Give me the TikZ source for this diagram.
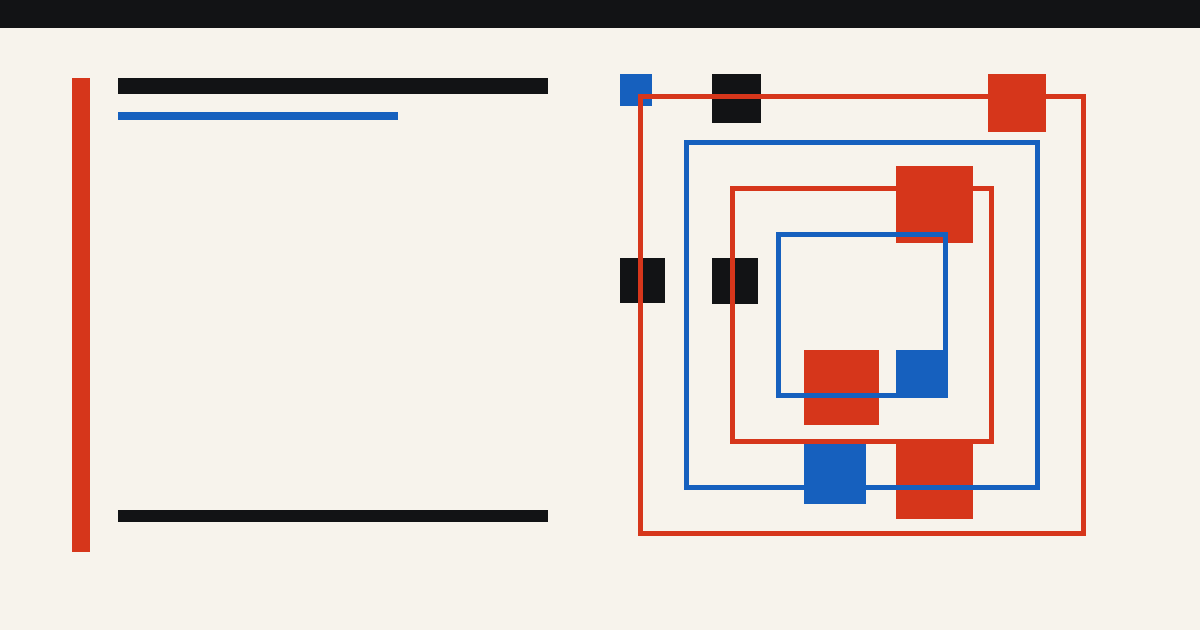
\documentclass[tikz,border=0pt]{standalone}
\definecolor{bgc}{RGB}{247,243,236}
\definecolor{ink}{RGB}{18,19,21}
\definecolor{redc}{RGB}{214,54,27}
\definecolor{bluec}{RGB}{22,96,190}
\tikzset{
  redfill/.style={fill=redc,draw=none},
  bluefill/.style={fill=bluec,draw=none},
  inkfill/.style={fill=ink,draw=none},
  redframe/.style={draw=redc,line width=5pt,fill=none},
  blueframe/.style={draw=bluec,line width=5pt,fill=none}
}
\begin{document}
\begin{tikzpicture}[x=1pt,y=-1pt]
\useasboundingbox (0,0) rectangle (1200,630);
\fill[bgc] (0,0) rectangle (1200,630);
% top band
\fill[inkfill] (0,0) rectangle (1200,28);
% left column
\fill[redfill] (72,78) rectangle (90,552);
\fill[inkfill] (118,78) rectangle (548,94);
\fill[bluefill] (118,112) rectangle (398,120);
\fill[inkfill] (118,510) rectangle (548,522);
% squares
\fill[bluefill] (620,74) rectangle (652,106);
\fill[inkfill] (712,74) rectangle (761,123);
\fill[redfill] (988,74) rectangle (1046,132);
\fill[redfill] (896,166) rectangle (973,243);
\fill[inkfill] (620,258) rectangle (665,303);
\fill[inkfill] (712,258) rectangle (758,304);
\fill[redfill] (804,350) rectangle (879,425);
\fill[bluefill] (896,350) rectangle (948,398);
\fill[bluefill] (804,442) rectangle (866,504);
\fill[redfill] (896,442) rectangle (973,519);
% frames
\draw[redframe] (640.5,96.5) rectangle (1083.5,533.5);
\draw[blueframe] (686.5,142.5) rectangle (1037.5,487.5);
\draw[redframe] (732.5,188.5) rectangle (991.5,441.5);
\draw[blueframe] (778.5,234.5) rectangle (945.5,395.5);
\end{tikzpicture}
\end{document}
